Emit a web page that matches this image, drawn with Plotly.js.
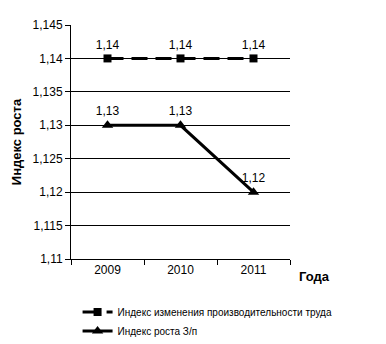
<!DOCTYPE html>
<html><head><meta charset="utf-8">
<script src="https://cdn.plot.ly/plotly-3.0.1.min.js"></script>
<style>body{margin:0;background:#fff}#c{width:386px;height:344px}</style>
</head><body><div id="c"></div>
<script>
const years = ['2009', '2010', '2011'];
const productivity = [1.14, 1.14, 1.14];
const wages = [1.13, 1.13, 1.12];
const labelsProductivity = ['1,14', '1,14', '1,14'];
const labelsWages = ['1,13', '1,13', '1,12'];
const yTicks = [1.11, 1.115, 1.12, 1.125, 1.13, 1.135, 1.14, 1.145];
const yTickText = ['1,11', '1,115', '1,12', '1,125', '1,13', '1,135', '1,14', '1,145'];
const F = '"Liberation Sans Narrow", "Arial Narrow", "Liberation Sans", Arial, sans-serif';

const traces = [
  {x: years, y: productivity, name: 'Индекс изменения производительности труда', mode: 'lines+markers+text',
   text: labelsProductivity, textposition: 'top center', textfont: {family: F, size: 12, color: '#000'},
   line: {color: '#000', width: 3, dash: '16px,8px'}, marker: {symbol: 'square', size: 8, color: '#000'}, cliponaxis: false},
  {x: years, y: wages, name: 'Индекс роста З/п', mode: 'lines+markers+text',
   text: labelsWages, textposition: 'top center', textfont: {family: F, size: 12, color: '#000'},
   line: {color: '#000', width: 3}, marker: {symbol: 'triangle-up', size: 10, color: '#000'}, cliponaxis: false}
];
const layout = {
  width: 386, height: 344, paper_bgcolor: '#fff', plot_bgcolor: '#fff',
  margin: {l: 71, r: 96, t: 25, b: 85, autoexpand: false},
  font: {family: F, size: 12, color: '#000'},
  showlegend: true,
  legend: {x: 0.03, y: -0.165, xanchor: 'left', yanchor: 'top', font: {family: F, size: 10, color: '#000'},
           tracegroupgap: 0, bgcolor: 'rgba(0,0,0,0)'},
  xaxis: {type: 'category', showline: true, linecolor: '#000', linewidth: 1, showgrid: false,
          ticks: 'outside', ticklen: 5, tickcolor: '#000', tickson: 'boundaries',
          tickfont: {family: F, size: 12, color: '#000'}, range: [-0.5, 2.5], fixedrange: true},
  yaxis: {range: [1.11, 1.145], tickvals: yTicks, ticktext: yTickText, showline: true, linecolor: '#000', linewidth: 1,
          showgrid: true, gridcolor: '#000', gridwidth: 1, ticks: 'outside', ticklen: 5, tickcolor: '#000',
          zeroline: false, tickfont: {family: F, size: 12, color: '#000'},
          title: {text: '<b>Индекс роста</b>', font: {family: F, size: 13, color: '#000'}, standoff: 8}},
  annotations: [{xref: 'paper', yref: 'paper', x: 1.03, y: -0.035, xanchor: 'left', yanchor: 'top', showarrow: false,
                 text: '<b>Года</b>', font: {family: F, size: 13, color: '#000'}}]
};
Plotly.newPlot('c', traces, layout, {displayModeBar: false, staticPlot: true});
</script></body></html>
